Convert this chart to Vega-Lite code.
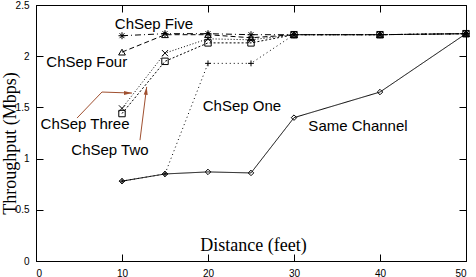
{
  "$schema": "https://vega.github.io/schema/vega-lite/v6.json",
  "width": 430,
  "height": 256,
  "autosize": {"type": "none"},
  "padding": {"left": 36, "top": 5, "right": 10, "bottom": 16},
  "background": "white",
  "config": {
    "view": {"stroke": "black", "strokeWidth": 1},
    "axis": {
      "grid": false,
      "domainColor": "black",
      "tickColor": "black",
      "tickSize": -7,
      "labelFont": "Liberation Sans",
      "labelFontSize": 10,
      "labelColor": "black",
      "labelPadding": 14,
      "titleFont": "Liberation Serif",
      "titleFontWeight": "normal",
      "titleColor": "black",
      "titleFontSize": 18
    }
  },
  "datasets": {
    "curves": [
      {"series": "Same Channel", "d": 10, "t": 0.78},
      {"series": "Same Channel", "d": 15, "t": 0.85},
      {"series": "Same Channel", "d": 20, "t": 0.87},
      {"series": "Same Channel", "d": 25, "t": 0.86},
      {"series": "Same Channel", "d": 30, "t": 1.40},
      {"series": "Same Channel", "d": 40, "t": 1.65},
      {"series": "Same Channel", "d": 50, "t": 2.22},
      {"series": "ChSep One", "d": 10, "t": 0.78},
      {"series": "ChSep One", "d": 15, "t": 0.85},
      {"series": "ChSep One", "d": 20, "t": 1.93},
      {"series": "ChSep One", "d": 25, "t": 1.93},
      {"series": "ChSep One", "d": 30, "t": 2.21},
      {"series": "ChSep One", "d": 40, "t": 2.21},
      {"series": "ChSep One", "d": 50, "t": 2.22},
      {"series": "ChSep Two", "d": 10, "t": 1.49},
      {"series": "ChSep Two", "d": 15, "t": 2.03},
      {"series": "ChSep Two", "d": 20, "t": 2.17},
      {"series": "ChSep Two", "d": 25, "t": 2.16},
      {"series": "ChSep Two", "d": 30, "t": 2.21},
      {"series": "ChSep Two", "d": 40, "t": 2.21},
      {"series": "ChSep Two", "d": 50, "t": 2.22},
      {"series": "ChSep Three", "d": 10, "t": 1.44},
      {"series": "ChSep Three", "d": 15, "t": 1.95},
      {"series": "ChSep Three", "d": 20, "t": 2.13},
      {"series": "ChSep Three", "d": 25, "t": 2.13},
      {"series": "ChSep Three", "d": 30, "t": 2.21},
      {"series": "ChSep Three", "d": 40, "t": 2.21},
      {"series": "ChSep Three", "d": 50, "t": 2.22},
      {"series": "ChSep Four", "d": 10, "t": 2.04},
      {"series": "ChSep Four", "d": 15, "t": 2.21},
      {"series": "ChSep Four", "d": 20, "t": 2.21},
      {"series": "ChSep Four", "d": 25, "t": 2.18},
      {"series": "ChSep Four", "d": 30, "t": 2.21},
      {"series": "ChSep Four", "d": 40, "t": 2.21},
      {"series": "ChSep Four", "d": 50, "t": 2.22},
      {"series": "ChSep Five", "d": 10, "t": 2.20},
      {"series": "ChSep Five", "d": 15, "t": 2.22},
      {"series": "ChSep Five", "d": 20, "t": 2.22},
      {"series": "ChSep Five", "d": 25, "t": 2.21},
      {"series": "ChSep Five", "d": 30, "t": 2.21},
      {"series": "ChSep Five", "d": 40, "t": 2.21},
      {"series": "ChSep Five", "d": 50, "t": 2.22}
    ],
    "labels": [
      {"label": "ChSep Five", "lx": 13.72, "ly": 2.262},
      {"label": "ChSep Four", "lx": 5.9, "ly": 1.897},
      {"label": "ChSep Three", "lx": 5.7, "ly": 1.286},
      {"label": "ChSep Two", "lx": 8.6, "ly": 1.035},
      {"label": "ChSep One", "lx": 23.95, "ly": 1.465},
      {"label": "Same Channel", "lx": 37.44, "ly": 1.272}
    ],
    "arrows": [
      {"arrow": "a1", "seq": 1, "ax": 4.77, "ay": 1.396},
      {"arrow": "a1", "seq": 2, "ax": 7.67, "ay": 1.65},
      {"arrow": "a1", "seq": 3, "ax": 11.16, "ay": 1.64},
      {"arrow": "a2", "seq": 1, "ax": 12.09, "ay": 1.18},
      {"arrow": "a2", "seq": 2, "ax": 12.87, "ay": 1.70}
    ]
  },
  "layer": [
    {
      "data": {"name": "curves"},
      "mark": {"type": "line", "color": "black", "strokeWidth": 1},
      "encoding": {
        "x": {"field": "d", "type": "quantitative", "scale": {"domain": [0, 50], "nice": false, "zero": false},
              "axis": {"orient": "bottom", "values": [0, 10, 20, 30, 40, 50], "title": "Distance (feet)", "titleX": 217, "titleY": -11, "titleBaseline": "alphabetic", "titleAlign": "center"}},
        "y": {"field": "t", "type": "quantitative", "scale": {"domain": [0, 2.5], "nice": false, "zero": false},
              "axis": {"orient": "left", "values": [0, 0.5, 1, 1.5, 2, 2.5], "format": "~g", "title": "Throughput (Mbps)", "titleX": -26, "titleY": 138, "titleAngle": -90, "titleAlign": "center", "titleBaseline": "middle"}},
        "detail": {"field": "series"},
        "strokeDash": {"field": "series", "type": "nominal", "legend": null,
          "scale": {"domain": ["Same Channel", "ChSep One", "ChSep Two", "ChSep Three", "ChSep Four", "ChSep Five"],
                    "range": [[1, 0], [1, 3], [1, 2], [2, 2], [5, 3], [6, 3, 1, 3]]}}
      }
    },
    {
      "data": {"name": "curves"},
      "mark": {"type": "point", "filled": false, "stroke": "black", "strokeWidth": 1, "opacity": 1},
      "encoding": {
        "x": {"field": "d", "type": "quantitative", "axis": null},
        "y": {"field": "t", "type": "quantitative", "axis": null},
        "shape": {"field": "series", "type": "nominal", "legend": null,
          "scale": {"domain": ["Same Channel", "ChSep One", "ChSep Two", "ChSep Three", "ChSep Four", "ChSep Five"],
                    "range": ["diamond", "M-1,0H1M0,-1V1", "M-1,-1L1,1M-1,1L1,-1", "square", "triangle-up", "M-1,0H1M0,-1V1M-0.7,-0.7L0.7,0.7M-0.7,0.7L0.7,-0.7"]}},
        "size": {"field": "series", "type": "nominal", "legend": null,
          "scale": {"domain": ["Same Channel", "ChSep One", "ChSep Two", "ChSep Three", "ChSep Four", "ChSep Five"],
                    "range": [30, 49, 36, 36, 40, 49]}}
      }
    },
    {
      "data": {"name": "labels"},
      "mark": {"type": "text", "font": "Liberation Sans", "fontSize": 15, "color": "black", "align": "center", "baseline": "alphabetic"},
      "encoding": {
        "x": {"field": "lx", "type": "quantitative", "axis": null},
        "y": {"field": "ly", "type": "quantitative", "axis": null},
        "text": {"field": "label"}
      }
    },
    {
      "data": {"name": "arrows"},
      "mark": {"type": "line", "color": "#a05030", "strokeWidth": 1},
      "encoding": {
        "x": {"field": "ax", "type": "quantitative", "axis": null},
        "y": {"field": "ay", "type": "quantitative", "axis": null},
        "detail": {"field": "arrow"},
        "order": {"field": "seq"}
      }
    },
    {
      "data": {"name": "arrows"},
      "transform": [{"filter": "datum.arrow == 'a1' && datum.seq == 3"}],
      "mark": {"type": "point", "filled": true, "color": "#a05030", "opacity": 1, "shape": "M0,0L-2,-0.5L-2,0.5Z", "size": 64},
      "encoding": {
        "x": {"field": "ax", "type": "quantitative", "axis": null},
        "y": {"field": "ay", "type": "quantitative", "axis": null}
      }
    },
    {
      "data": {"name": "arrows"},
      "transform": [{"filter": "datum.arrow == 'a2' && datum.seq == 2"}],
      "mark": {"type": "point", "filled": true, "color": "#a05030", "opacity": 1, "shape": "M0,0L-0.5,2L0.5,2Z", "size": 64, "angle": 7},
      "encoding": {
        "x": {"field": "ax", "type": "quantitative", "axis": null},
        "y": {"field": "ay", "type": "quantitative", "axis": null}
      }
    },
    {
      "data": {"name": "curves"},
      "mark": {"type": "point", "opacity": 0},
      "encoding": {
        "x": {"field": "d", "type": "quantitative", "axis": {"orient": "top", "values": [0, 10, 20, 30, 40, 50], "labels": false, "title": null, "domain": false}},
        "y": {"field": "t", "type": "quantitative", "axis": {"orient": "right", "values": [0, 0.5, 1, 1.5, 2, 2.5], "labels": false, "title": null, "domain": false}}
      }
    }
  ],
  "resolve": {"axis": {"x": "independent", "y": "independent"}}
}
